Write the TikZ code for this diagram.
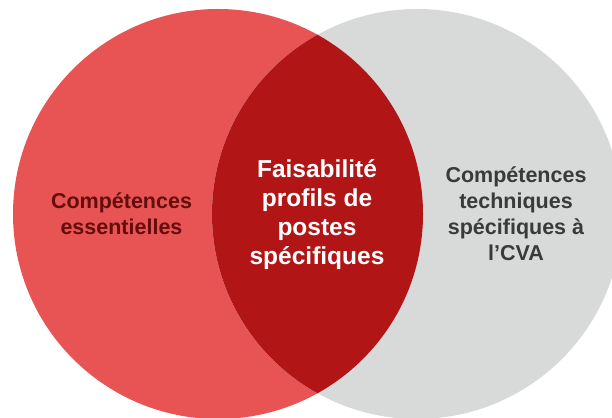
\documentclass[tikz,border=0pt]{standalone}
\usepackage{fontspec}
\setmainfont{Liberation Sans}
\usepackage{tikz}
\usetikzlibrary{positioning}

\definecolor{vennred}{HTML}{E85454}
\definecolor{venngrey}{HTML}{D8D9D9}
\definecolor{venndark}{HTML}{B21516}
\definecolor{redtext}{HTML}{650D0D}
\definecolor{greytext}{HTML}{3A3A3A}

\tikzset{
  venntext/.style={align=center,font=\bfseries\fontsize{21.5}{26}\selectfont,inner sep=0pt},
  middletext/.style={align=center,font=\bfseries\fontsize{24.5}{29}\selectfont,inner sep=0pt,text=white}
}

\begin{document}
\begin{tikzpicture}[x=1pt,y=1pt]
            \useasboundingbox (0,0) rectangle (612,417);
            \coordinate (essential) at (218,203);
            \coordinate (technical) at (417,203);
            \fill[vennred] (essential) circle[radius=205pt];
            \fill[venngrey] (technical) circle[radius=205pt];
            \begin{scope}
                \clip (essential) circle[radius=205pt];
                \fill[venndark] (technical) circle[radius=205pt];
            \end{scope}
            \node[venntext,text=redtext] (essentiallabel) at (121.5,203)
                {Compétences\\essentielles};
            \node[middletext] (feasibility) at (317,202)
                {Faisabilité\\profils de\\postes\\spécifiques};
            \node[venntext,text=greytext] (technicallabel) at (516,203)
                {Compétences\\techniques\\spécifiques à\\l’CVA};
        \end{tikzpicture}
\end{document}
